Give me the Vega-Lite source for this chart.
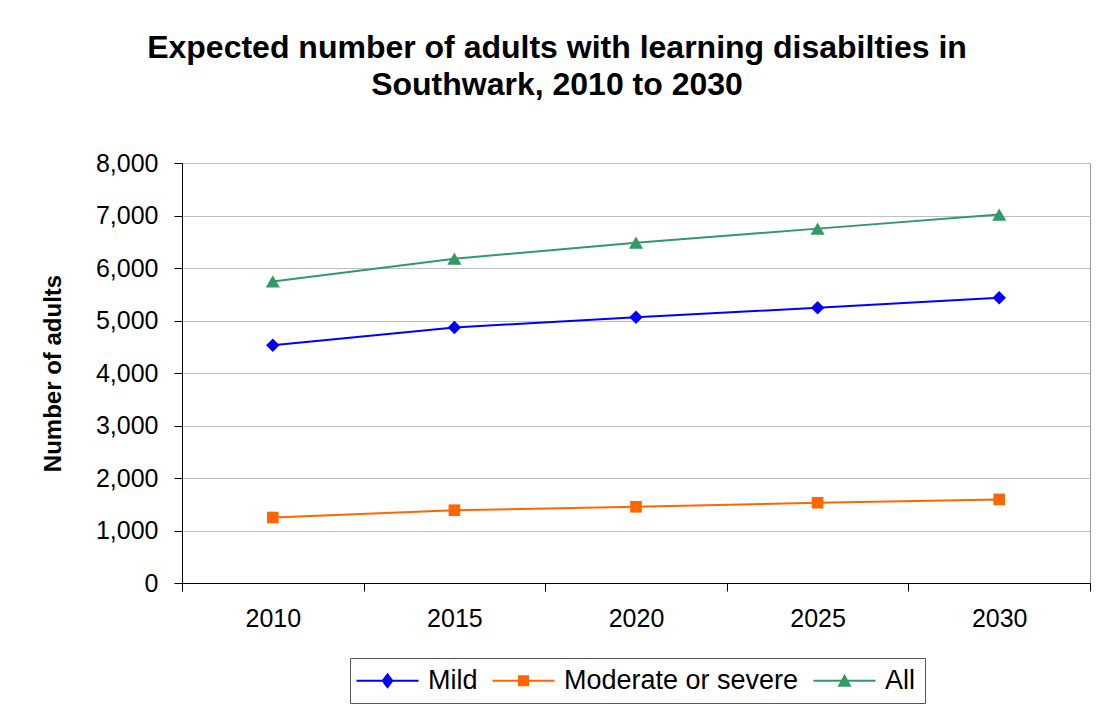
{
  "$schema": "https://vega.github.io/schema/vega-lite/v6.json",
  "autosize": {"type": "none"},
  "width": 908,
  "height": 420,
  "padding": {"left": 182, "top": 163, "right": 16, "bottom": 124},
  "background": "white",
  "title": {
    "text": ["Expected number of adults with learning disabilties in", "Southwark, 2010 to 2030"],
    "font": "Liberation Sans",
    "fontSize": 32,
    "fontWeight": "bold",
    "color": "black",
    "anchor": "middle",
    "dx": -79,
    "dy": -29,
    "lineHeight": 37,
    "offset": 20
  },
  "config": {
    "font": "Liberation Sans",
    "view": {"stroke": "#999999", "strokeWidth": 1}
  },
  "data": {
    "values": [
      {"year": "2010", "type": "Mild", "value": 4529},
      {"year": "2015", "type": "Mild", "value": 4866},
      {"year": "2020", "type": "Mild", "value": 5063},
      {"year": "2025", "type": "Mild", "value": 5242},
      {"year": "2030", "type": "Mild", "value": 5433},
      {"year": "2010", "type": "Moderate or severe", "value": 1248},
      {"year": "2015", "type": "Moderate or severe", "value": 1387},
      {"year": "2020", "type": "Moderate or severe", "value": 1452},
      {"year": "2025", "type": "Moderate or severe", "value": 1529},
      {"year": "2030", "type": "Moderate or severe", "value": 1592},
      {"year": "2010", "type": "All", "value": 5745},
      {"year": "2015", "type": "All", "value": 6177},
      {"year": "2020", "type": "All", "value": 6483},
      {"year": "2025", "type": "All", "value": 6750},
      {"year": "2030", "type": "All", "value": 7019}
    ]
  },
  "encoding": {
    "x": {
      "field": "year",
      "type": "ordinal",
      "bandPosition": 0.5,
      "scale": {"type": "band", "paddingInner": 0, "paddingOuter": 0},
      "axis": {
        "title": null,
        "labelAngle": 0,
        "labelFont": "Liberation Sans",
        "labelFontSize": 25,
        "labelColor": "black",
        "labelPadding": 15,
        "tickBand": "extent",
        "tickSize": 8,
        "tickColor": "black",
        "domainColor": "black",
        "grid": false
      }
    },
    "y": {
      "field": "value",
      "type": "quantitative",
      "scale": {"domain": [0, 8000], "nice": false},
      "axis": {
        "title": "Number of adults",
        "titleFont": "Liberation Sans",
        "titleFontSize": 24,
        "titleFontWeight": "bold",
        "titleColor": "black",
        "titlePadding": 30,
        "values": [0, 1000, 2000, 3000, 4000, 5000, 6000, 7000, 8000],
        "format": ",.0f",
        "labelFont": "Liberation Sans",
        "labelFontSize": 25,
        "labelColor": "black",
        "labelPadding": 16,
        "tickSize": 8,
        "tickColor": "black",
        "domainColor": "black",
        "gridColor": "#c0c0c0",
        "gridWidth": 1
      }
    },
    "color": {
      "field": "type",
      "type": "nominal",
      "sort": ["Mild", "Moderate or severe", "All"],
      "scale": {"domain": ["Mild", "Moderate or severe", "All"], "range": ["#0000FF", "#FF6600", "#339966"]},
      "legend": {
        "title": null,
        "orient": "none",
        "legendX": 168,
        "legendY": 495,
        "direction": "horizontal",
        "columns": 3,
        "labelFont": "Liberation Sans",
        "labelFontSize": 27,
        "labelColor": "black",
        "labelLimit": 0,
        "labelOffset": 27,
        "symbolOffset": 15,
        "symbolSize": 400,
        "columnPadding": 14,
        "padding": 9,
        "strokeColor": "#555555",
        "fillColor": "white",
        "symbolStrokeWidth": 0,
        "encode": {
          "symbols": {
            "update": {
              "shape": {"signal": "datum.value === 'Mild' ? 'M-3.1,-0.1L3.1,-0.1L3.1,0.1L-3.1,0.1Z M0,-0.8L0.6,0L0,0.8L-0.6,0Z' : datum.value === 'All' ? 'M-3.1,-0.1L3.1,-0.1L3.1,0.1L-3.1,0.1Z M0,-0.7L0.7,0.6L-0.7,0.6Z' : 'M-3.1,-0.1L3.1,-0.1L3.1,0.1L-3.1,0.1Z M-0.55,-0.55L0.55,-0.55L0.55,0.55L-0.55,0.55Z'"},
              "size": {"value": 400},
              "fill": {"scale": "color", "field": "value"},
              "strokeWidth": {"value": 0},
              "opacity": {"value": 1}
            }
          }
        }
      }
    }
  },
  "layer": [
    {
      "mark": {"type": "line", "strokeWidth": 2}
    },
    {
      "transform": [{"filter": "datum.type === 'Mild'"}],
      "mark": {"type": "point", "filled": true, "opacity": 1, "size": 180, "shape": "diamond"}
    },
    {
      "transform": [{"filter": "datum.type === 'Moderate or severe'"}],
      "mark": {"type": "point", "filled": true, "opacity": 1, "size": 135, "shape": "square"}
    },
    {
      "transform": [{"filter": "datum.type === 'All'"}],
      "mark": {"type": "point", "filled": true, "opacity": 1, "size": 200, "shape": "triangle-up"}
    }
  ]
}
